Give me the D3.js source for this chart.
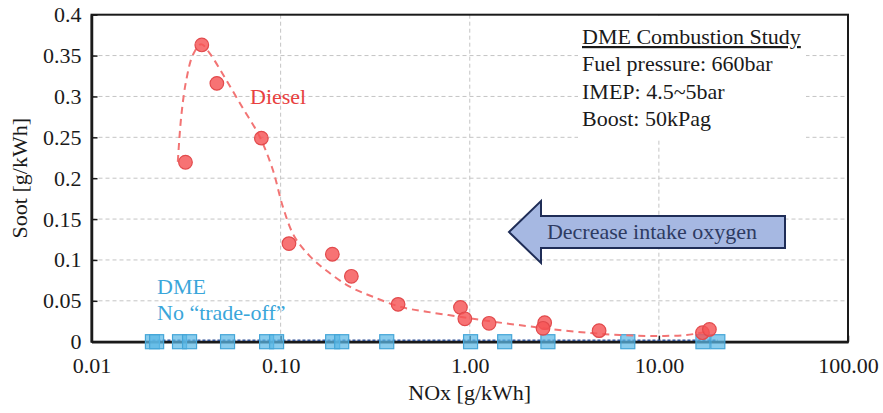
<!DOCTYPE html>
<html>
<head>
<meta charset="utf-8">
<script src="https://cdn.jsdelivr.net/npm/d3@7"></script>
<style>
  body { margin: 0; background: #fff; }
  text { font-family: "Liberation Serif", "Times New Roman", serif; }
</style>
</head>
<body>
<div id="chart"></div>
<script>
// Data
var dieselNox  = [0.0314, 0.0383, 0.0460, 0.0791, 0.1107, 0.1877, 0.2366, 0.418, 0.893, 0.942, 1.265, 2.49, 2.44, 4.83, 17.0, 18.5];
var dieselSoot = [0.2195, 0.363, 0.316, 0.249, 0.120, 0.107, 0.080, 0.0457, 0.042, 0.028, 0.0225, 0.0233, 0.0164, 0.0135, 0.011, 0.015];

// dashed trend line drawn through the diesel points
var trendNox  = [0.0286, 0.0298, 0.0317, 0.0344, 0.0380, 0.0421, 0.0516, 0.0632, 0.0774, 0.0910, 0.1028, 0.1180, 0.1423, 0.1745, 0.2317, 0.3076, 0.4268, 0.590, 0.885, 1.328, 1.995, 2.76, 4.145, 6.22, 9.33, 14.0, 17.9];
var trendSoot = [0.220, 0.275, 0.320, 0.351, 0.364, 0.353, 0.320, 0.2855, 0.251, 0.210, 0.1650, 0.1290, 0.105, 0.0870, 0.0673, 0.055, 0.0428, 0.0367, 0.0306, 0.0245, 0.0192, 0.0152, 0.011, 0.0082, 0.007, 0.0082, 0.0122];

var dmeNox  = [0.0210, 0.0221, 0.0292, 0.0330, 0.0524, 0.0843, 0.0952, 0.1884, 0.2103, 0.364, 1.01, 1.53, 2.59, 6.85, 17.1, 20.5];
var dmeSoot = [0, 0, 0, 0, 0, 0, 0, 0, 0, 0, 0, 0, 0, 0, 0, 0];

var xTicks = [0.01, 0.1, 1, 10, 100];
var yTicks = [0, 0.05, 0.1, 0.15, 0.2, 0.25, 0.3, 0.35, 0.4];
var infoLines = ["DME Combustion Study", "Fuel pressure: 660bar", "IMEP: 4.5~5bar", "Boost: 50kPag"];

// Layout
var W = 883, H = 413,
    plot = { left: 91.5, right: 848, top: 14.7, bottom: 341.7 };

var svg = d3.select("#chart").append("svg")
    .attr("width", W)
    .attr("height", H);

var x = d3.scaleLog().domain([0.01, 100]).range([plot.left, plot.right]);
var y = d3.scaleLinear().domain([0, 0.4]).range([plot.bottom, plot.top]);

// grid lines
var grid = svg.append("g").attr("stroke", "#c4c4c4").attr("stroke-width", 1).attr("stroke-dasharray", "4,3");
grid.selectAll(".hg")
    .data(yTicks.filter(function (d) { return d > 0 && d < 0.4; }))
    .enter().append("line")
    .attr("x1", plot.left).attr("x2", plot.right)
    .attr("y1", function (d) { return y(d); })
    .attr("y2", function (d) { return y(d); });
grid.selectAll(".vg")
    .data(xTicks.filter(function (d) { return d > 0.01 && d < 100; }))
    .enter().append("line")
    .attr("y1", plot.top).attr("y2", plot.bottom)
    .attr("x1", function (d) { return x(d); })
    .attr("x2", function (d) { return x(d); });

// white text box hides the grid behind it
svg.append("rect")
    .attr("x", 578).attr("y", 16)
    .attr("width", 228).attr("height", 124)
    .attr("fill", "#fff");

infoLines.forEach(function (t, i) {
    svg.append("text")
        .attr("x", 582)
        .attr("y", 44 + i * 27.3)
        .attr("font-size", 22)
        .attr("fill", "#1a1a1a")
        .attr("text-decoration", i == 0 ? "underline" : null)
        .text(t);
});

// frame
svg.append("rect")
    .attr("x", plot.left).attr("y", plot.top)
    .attr("width", plot.right - plot.left)
    .attr("height", plot.bottom - plot.top)
    .attr("fill", "none")
    .attr("stroke", "#1a1a1a")
    .attr("stroke-width", 2);

// axes
var xAxis = d3.axisBottom(x)
    .tickValues(xTicks)
    .tickFormat(d3.format(".2f"))
    .tickSizeInner(-6).tickSizeOuter(0)
    .tickPadding(16);
var yAxis = d3.axisLeft(y)
    .tickValues(yTicks)
    .tickFormat(function (d) { return d3.format("")(+d.toFixed(2)); })
    .tickSizeInner(-6).tickSizeOuter(0)
    .tickPadding(10);

var gx = svg.append("g")
    .attr("transform", "translate(0," + plot.bottom + ")")
    .call(xAxis);
var gy = svg.append("g")
    .attr("transform", "translate(" + plot.left + ",0)")
    .call(yAxis);

[gx, gy].forEach(function (g) {
    g.select(".domain").attr("stroke", "#1a1a1a").attr("stroke-width", 2.5);
    g.selectAll(".tick line").attr("stroke", "#1a1a1a").attr("stroke-width", 1.5);
    g.selectAll(".tick text")
        .attr("font-family", "Liberation Serif, Times New Roman, serif")
        .attr("font-size", 22)
        .attr("fill", "#1a1a1a");
});

// axis titles
svg.append("text")
    .attr("x", (plot.left + plot.right) / 2)
    .attr("y", 400)
    .attr("text-anchor", "middle")
    .attr("font-size", 22)
    .attr("fill", "#1a1a1a")
    .text("NOx [g/kWh]");

svg.append("text")
    .attr("transform", "translate(27," + (plot.top + plot.bottom) / 2 + ") rotate(-90)")
    .attr("text-anchor", "middle")
    .attr("font-size", 22)
    .attr("fill", "#1a1a1a")
    .text("Soot [g/kWh]");

// arrow annotation
var arrow = [[509, 232], [541, 201], [541, 216], [785, 216], [785, 248], [541, 248], [541, 263]];
svg.append("polygon")
    .attr("points", arrow.map(function (p) { return p.join(","); }).join(" "))
    .attr("fill", "#a6b8e2")
    .attr("stroke", "#1f2d57")
    .attr("stroke-width", 2)
    .attr("stroke-linejoin", "miter");
svg.append("text")
    .attr("x", 652).attr("y", 239)
    .attr("text-anchor", "middle")
    .attr("font-size", 22)
    .attr("fill", "#2e3b62")
    .text("Decrease intake oxygen");

// DME series
var dme = dmeNox.map(function (d, i) { return { x: d, y: dmeSoot[i] }; });
svg.append("line")
    .attr("x1", x(d3.min(dmeNox))).attr("x2", x(d3.max(dmeNox)))
    .attr("y1", y(0) - 1.5).attr("y2", y(0) - 1.5)
    .attr("stroke", "#2f4f95")
    .attr("stroke-width", 1.5)
    .attr("stroke-dasharray", "3,2");

svg.selectAll(".dme")
    .data(dme)
    .enter().append("rect")
    .attr("class", "dme")
    .attr("x", function (d) { return x(d.x) - 7; })
    .attr("y", function (d) { return y(d.y) - 7; })
    .attr("width", 14).attr("height", 14)
    .attr("fill", "#5cb8e6")
    .attr("fill-opacity", 0.72)
    .attr("stroke", "#45a6d8")
    .attr("stroke-width", 1.2);

// Diesel series
var trend = trendNox.map(function (d, i) { return { x: d, y: trendSoot[i] }; });
var line = d3.line()
    .x(function (d) { return x(d.x); })
    .y(function (d) { return y(d.y); })
    .curve(d3.curveCatmullRom);

svg.append("path")
    .datum(trend)
    .attr("d", line)
    .attr("fill", "none")
    .attr("stroke", "#f27474")
    .attr("stroke-width", 2)
    .attr("stroke-dasharray", "7,5");

var diesel = dieselNox.map(function (d, i) { return { x: d, y: dieselSoot[i] }; });
svg.selectAll(".diesel")
    .data(diesel)
    .enter().append("circle")
    .attr("class", "diesel")
    .attr("cx", function (d) { return x(d.x); })
    .attr("cy", function (d) { return y(d.y); })
    .attr("r", 6.8)
    .attr("fill", "#f55456")
    .attr("fill-opacity", 0.82)
    .attr("stroke", "#e24a4c")
    .attr("stroke-width", 1.2);

// series labels
svg.append("text")
    .attr("x", 250).attr("y", 104)
    .attr("font-size", 22)
    .attr("fill", "#e8413f")
    .text("Diesel");
svg.append("text")
    .attr("x", 157).attr("y", 294)
    .attr("font-size", 22)
    .attr("fill", "#3aa6da")
    .text("DME");
svg.append("text")
    .attr("x", 157).attr("y", 320)
    .attr("font-size", 22)
    .attr("fill", "#3aa6da")
    .text("No \u201ctrade-off\u201d");
</script>
</body>
</html>
